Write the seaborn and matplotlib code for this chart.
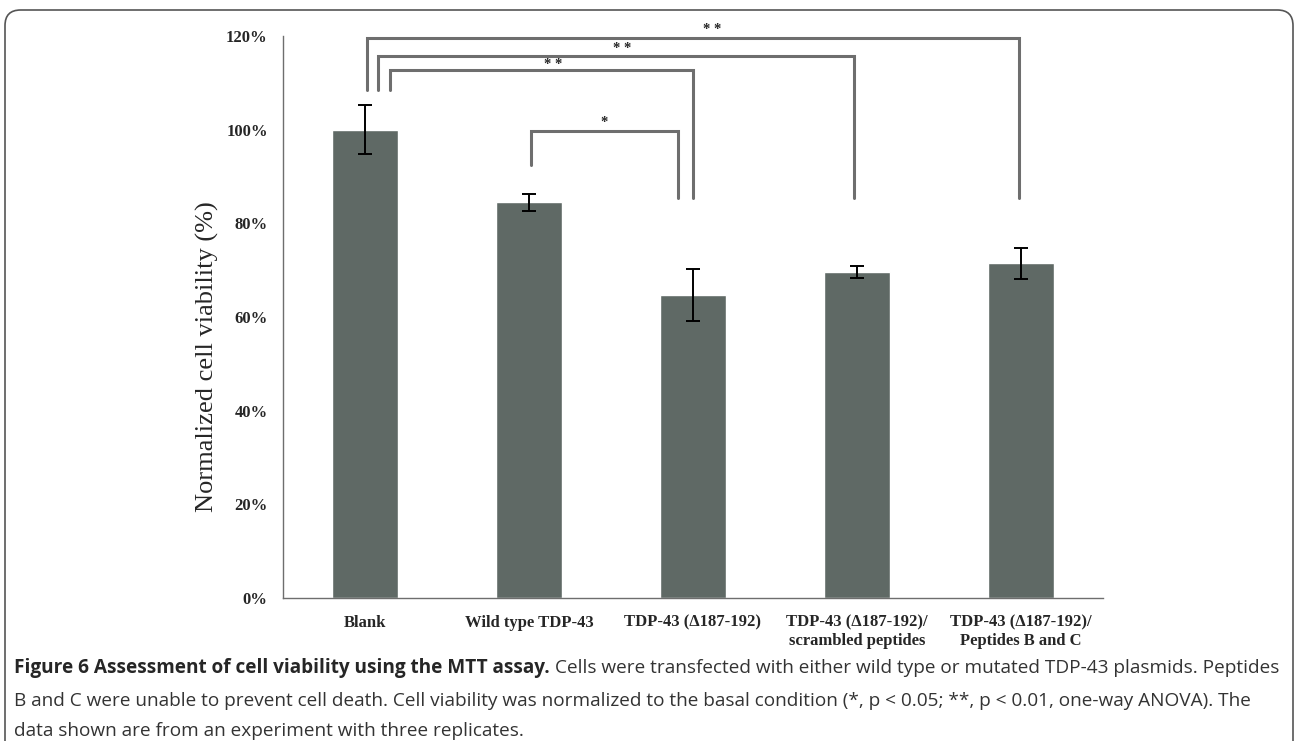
import matplotlib
matplotlib.use("Agg")
import matplotlib.pyplot as plt
import seaborn as sns
import pandas as pd
from matplotlib.patches import FancyBboxPatch
from matplotlib.ticker import FixedLocator

# --- data ---
categories = ["Blank", "Wild type TDP-43", "TDP-43 (\u0394187-192)",
              "TDP-43 (\u0394187-192)/\nscrambled peptides",
              "TDP-43 (\u0394187-192)/\nPeptides B and C"]
viability = [100.0, 84.5, 64.7, 69.6, 71.5]
errors = [5.3, 1.8, 5.5, 1.2, 3.3]
y_ticks = [0, 20, 40, 60, 80, 100, 120]

# significance brackets: (x_left, x_right, y_line, y_left_end, y_right_end, label, label_x, label_y)
brackets = [
    (0.01, 3.99, 119.6, 108.5, 85.4, "* *", 2.12, 121.3),
    (0.08, 2.98, 115.7, 108.5, 85.4, "* *", 1.57, 117.4),
    (0.15, 2.00, 112.7, 108.5, 85.4, "* *", 1.15, 114.0),
    (1.01, 1.91, 99.7, 92.5, 85.4, "*", 1.46, 101.6),
]

BAR_COLOR = "#5f6965"
LINE_GREY = "#6e6e6e"

sns.set_style("white")
plt.rcParams["font.family"] = ["Liberation Serif", "DejaVu Serif"]

fig = plt.figure(figsize=(12.99, 7.41), dpi=100)
ax = fig.add_axes([283 / 1299, 1 - 598 / 741, 820 / 1299, 562 / 741])

df = pd.DataFrame({"cond": categories, "val": viability})
sns.barplot(data=df, x="cond", y="val", color=BAR_COLOR, width=0.4,
            saturation=1, ax=ax)
ax.errorbar(range(len(categories)), viability, yerr=errors, fmt="none",
            ecolor="black", elinewidth=1.4, capsize=5, capthick=1.4)

ax.set_xlim(-0.5, len(categories) - 0.5)
ax.set_ylim(0, 120)
ax.set_yticks(y_ticks)
ax.set_yticklabels([f"{t}%" for t in y_ticks], fontweight="bold", fontsize=12)
ax.set_xticks(range(len(categories)))
ax.set_xticklabels(categories, fontweight="bold", fontsize=12)
ax.tick_params(axis="x", length=0, pad=12)
ax.tick_params(axis="y", length=5, color=LINE_GREY, width=1, direction="out", pad=6)
ax.xaxis.set_minor_locator(FixedLocator([i - 0.5 for i in range(len(categories) + 1)]))
ax.tick_params(axis="x", which="minor", length=5, color=LINE_GREY, width=1, direction="out")
for s in ["top", "right"]:
    ax.spines[s].set_visible(False)
for s in ["left", "bottom"]:
    ax.spines[s].set_color(LINE_GREY)
    ax.spines[s].set_linewidth(1)
ax.set_xlabel("")
ax.set_ylabel("Normalized cell viability (%)", fontsize=19)
ax.yaxis.set_label_coords(-0.078, 0.43)

for xl, xr, yl, yle, yre, lab, lx, ly in brackets:
    ax.plot([xl, xl, xr, xr], [yle, yl, yl, yre], color=LINE_GREY, lw=2.2,
            clip_on=False, solid_joinstyle="miter")
    ax.text(lx, ly, lab, ha="center", va="center", fontsize=10.5, fontweight="bold",
            clip_on=False)

# frame around the figure
frame = FancyBboxPatch((5 / 1299, -0.05), 1288 / 1299, 1 - 10 / 741 + 0.05,
                       boxstyle="round,pad=0,rounding_size=0.012",
                       transform=fig.transFigure, fill=False,
                       edgecolor="#555555", lw=1.2, mutation_aspect=1299 / 741)
fig.patches.append(frame)

# caption
cap_font = ["Open Sans", "DejaVu Sans"]
cap_size = 13.7
x0 = 14 / 1299
t1 = fig.text(x0, 1 - 668 / 741, "Figure 6 Assessment of cell viability using the MTT assay.",
              fontweight="bold", fontsize=cap_size, family=cap_font, va="center")
fig.canvas.draw()
bb = t1.get_window_extent()
fig.text(bb.x1 / 1299 + 5 / 1299, 1 - 668 / 741,
         "Cells were transfected with either wild type or mutated TDP-43 plasmids. Peptides",
         fontsize=cap_size, family=cap_font, va="center", color="#333333")
fig.text(x0, 1 - 701 / 741,
         "B and C were unable to prevent cell death. Cell viability was normalized to the basal condition "
         "(*, p < 0.05; **, p < 0.01, one-way ANOVA). The",
         fontsize=cap_size, family=cap_font, va="center", color="#333333")
fig.text(x0, 1 - 731 / 741, "data shown are from an experiment with three replicates.",
         fontsize=cap_size, family=cap_font, va="center", color="#333333")

fig.savefig("out.png", dpi=100)
